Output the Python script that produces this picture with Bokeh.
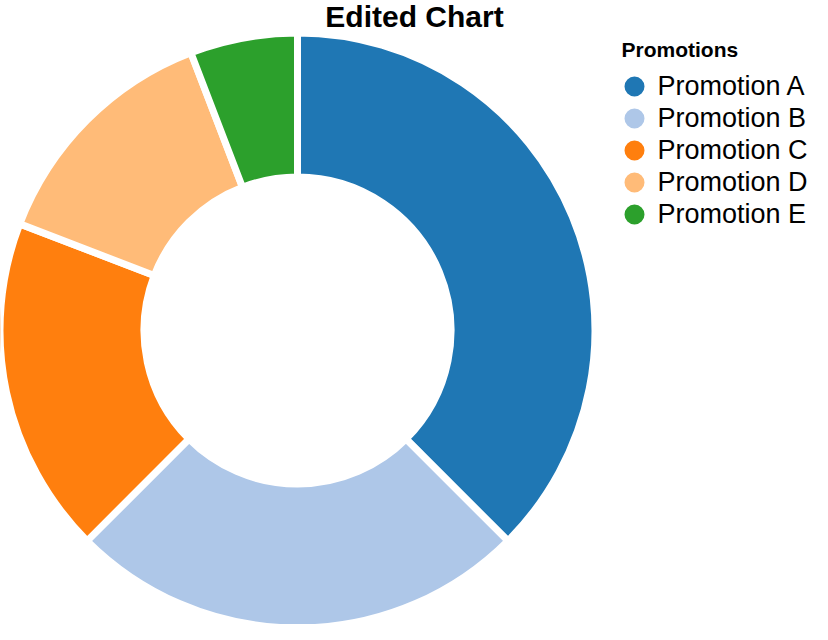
import numpy as np
from bokeh.plotting import figure
from bokeh.models import Range1d, ColumnDataSource
from bokeh.core.properties import value
from bokeh.embed import file_html
from bokeh.resources import INLINE

# ---- data ----
categories = ["Promotion A", "Promotion B", "Promotion C", "Promotion D", "Promotion E"]
values = [45, 30, 22, 16, 7]
colors = ["#1f77b4", "#aec7e8", "#ff7f0e", "#ffbb78", "#2ca02c"]
title_text = "Edited Chart"
legend_title = "Promotions"

W, H = 812, 624
FONT = value("Liberation Sans")

p = figure(width=W, height=H, output_backend="svg", toolbar_location=None,
           x_range=Range1d(0, W), y_range=Range1d(0, H), min_border=0)
p.axis.visible = False
p.grid.visible = False
p.outline_line_color = None
p.background_fill_color = "white"
p.border_fill_color = "white"

# ---- donut ----
vals = np.array(values, dtype=float)
frac = vals / vals.sum()
cum = np.concatenate([[0.0], np.cumsum(frac)])
start = np.pi / 2 - cum[:-1] * 2 * np.pi
end = np.pi / 2 - cum[1:] * 2 * np.pi

cx, cy = 297, H - 330
gap = 7
R_vis, r_vis = 294, 157
src = ColumnDataSource(dict(cat=categories, val=values, start=start, end=end, color=colors))
p.annular_wedge(x=cx, y=cy, inner_radius=r_vis - gap / 2, outer_radius=R_vis + gap / 2,
                start_angle="start", end_angle="end", direction="clock",
                fill_color="color", line_color="white", line_width=gap, source=src)

# ---- title ----
p.text(x=[414], y=[H - 16], text=[title_text], text_font=FONT, text_font_style="bold",
       text_font_size="30px", text_align="center", text_baseline="alphabetic", text_color="black")

# ---- legend ----
lx_title, ly_title = 621, 49
p.text(x=[lx_title], y=[H - ly_title], text=[legend_title], text_font=FONT, text_font_style="bold",
       text_font_size="21px", text_align="left", text_baseline="alphabetic", text_color="black")
rows = np.arange(len(categories))
leg = ColumnDataSource(dict(
    cx=[634] * len(categories), cy=list(H - (86 + 32 * rows)),
    tx=[657] * len(categories), ty=list(H - (85 + 32 * rows)),
    label=categories, color=colors))
p.scatter(x="cx", y="cy", size=20, marker="circle", fill_color="color", line_color=None, source=leg)
p.text(x="tx", y="ty", text="label", text_font=FONT, text_font_size="27px",
       text_align="left", text_baseline="alphabetic", text_color="black", source=leg)

open("out.html", "w").write(file_html(p, INLINE))
